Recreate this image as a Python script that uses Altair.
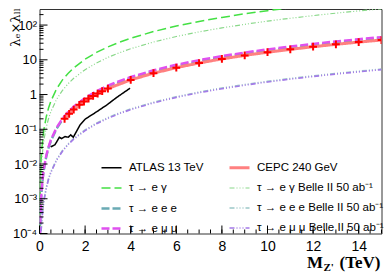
import altair as alt
import pandas as pd

# ---- data ----
M_GRID = [0.005, 0.01, 0.02, 0.03, 0.05, 0.075, 0.1, 0.15, 0.2, 0.3, 0.4, 0.5, 0.75, 1, 1.25, 1.5,
          2, 2.5, 3, 3.5, 4, 5, 6, 7, 8, 9, 10, 11, 12, 13, 14, 15]

TAU_EG = [6.5e-5, 2.6e-4, 1.04e-3, 2.34e-3, 6.5e-3, 0.0146, 0.026, 0.0585, 0.104, 0.234, 0.416, 0.65,
          1.46, 2.6, 4.06, 5.85, 10.4, 16.3, 23.4, 31.9, 41.6, 65, 94, 127, 166, 211, 260, 315, 374,
          439, 510, 585]
TAU_EG_BELLE = [3.3e-5, 1.3e-4, 5.2e-4, 1.17e-3, 3.25e-3, 7.3e-3, 0.013, 0.029, 0.052, 0.117, 0.208,
                0.325, 0.73, 1.3, 2.03, 2.93, 5.2, 8.1, 11.7, 15.9, 20.8, 32.5, 46.8, 63.7, 83.2, 105,
                130, 157, 187, 220, 255, 293]
TAU_EEE = [4.6e-6, 1.85e-5, 7.4e-5, 1.67e-4, 4.6e-4, 1.04e-3, 1.85e-3, 4.2e-3, 7.4e-3, 0.0167, 0.0296,
           0.046, 0.104, 0.185, 0.289, 0.416, 0.74, 1.16, 1.67, 2.27, 2.96, 4.63, 6.66, 9.07, 11.8,
           15.0, 18.5, 22.4, 26.6, 31.3, 36.3, 41.6]
TAU_EMM = [5e-6, 2e-5, 8e-5, 1.8e-4, 5e-4, 1.13e-3, 2e-3, 4.5e-3, 8e-3, 0.018, 0.032, 0.05, 0.1125,
           0.2, 0.3125, 0.45, 0.8, 1.25, 1.8, 2.45, 3.2, 5, 7.2, 9.8, 12.8, 16.2, 20, 24.2, 28.8,
           33.8, 39.2, 45]
TAU_EEE_BELLE = [6e-7, 2.4e-6, 9.6e-6, 2.16e-5, 6e-5, 1.35e-4, 2.4e-4, 5.4e-4, 9.6e-4, 2.16e-3,
                 3.84e-3, 6e-3, 0.0135, 0.024, 0.0375, 0.054, 0.096, 0.15, 0.216, 0.294, 0.384, 0.6,
                 0.864, 1.18, 1.54, 1.94, 2.4, 2.9, 3.46, 4.06, 4.7, 5.4]
TAU_EMM_BELLE = [5.75e-7, 2.3e-6, 9.2e-6, 2.07e-5, 5.75e-5, 1.29e-4, 2.3e-4, 5.2e-4, 9.2e-4,
                 2.07e-3, 3.68e-3, 5.75e-3, 0.0129, 0.023, 0.036, 0.0518, 0.092, 0.144, 0.207,
                 0.282, 0.368, 0.575, 0.83, 1.13, 1.47, 1.86, 2.3, 2.78, 3.31, 3.89, 4.5, 5.2]

ATLAS_M = [0.49, 0.68, 0.87, 0.97, 1.12, 1.26, 1.37, 1.48, 1.78, 2.0, 2.21, 2.51, 2.95, 3.39, 3.97]
ATLAS_V = [0.031, 0.036, 0.059, 0.054, 0.062, 0.059, 0.069, 0.059, 0.134, 0.195, 0.24, 0.32, 0.50,
           0.83, 1.52]

CEPC_M = [1.1, 1.3, 1.5, 1.75, 1.95, 2.15, 2.35, 2.55, 2.75, 3.0, 4, 5, 6, 7, 8, 9, 10, 11, 12, 13,
          14, 15]
CEPC_V = [0.20, 0.279, 0.371, 0.505, 0.627, 0.763, 0.911, 1.07, 1.25, 1.49, 2.64, 4.13, 5.94, 8.09,
          10.6, 13.4, 16.5, 20.0, 23.8, 27.9, 32.3, 37.1]

SERIES = ["ATLAS 13 TeV", "CEPC 240 GeV",
          "τ → e γ", "τ → e γ Belle II 50 ab⁻¹",
          "τ → e e e", "τ → e e e Belle II 50 ab⁻¹",
          "τ → e μ μ", "τ → e μ μ Belle II 50 ab⁻¹"]
COLORS = ["#000000", "#ff8080", "#44e044", "#8ad88a", "#6aaab4", "#9cc8c8", "#e050f0", "#a47ae8"]
DASHES = [[1, 0], [1, 0], [9, 4], [5, 2, 1, 2, 1, 2, 1, 2], [8, 3], [5, 2, 1, 2, 1, 2, 1, 2],
          [8, 3], [5, 2, 1, 2, 1, 2, 1, 2]]
WIDTHS = [1.5, 3, 1.5, 1.2, 2.4, 1.6, 2.4, 1.6]

X_MAJOR = [0, 2, 4, 6, 8, 10, 12, 14]
X_MINOR = [i * 0.5 for i in range(31)]
Y_MAJOR = [1e-4, 1e-3, 1e-2, 1e-1, 1, 10, 100]
Y_MINOR = [m * 10.0 ** k for k in range(-4, 2) for m in range(2, 10)] + [200]

W, H = 342, 224.5
XMAX = 15
YDOM = [1e-4, 290]

rows = []
for name, vals in [(SERIES[2], TAU_EG), (SERIES[3], TAU_EG_BELLE), (SERIES[4], TAU_EEE),
                   (SERIES[5], TAU_EEE_BELLE), (SERIES[6], TAU_EMM), (SERIES[7], TAU_EMM_BELLE)]:
    rows += [{"series": name, "M": m, "v": v} for m, v in zip(M_GRID, vals)]
rows += [{"series": SERIES[0], "M": m, "v": v} for m, v in zip(ATLAS_M, ATLAS_V)]
rows += [{"series": SERIES[1], "M": m, "v": v} for m, v in zip(CEPC_M, CEPC_V)]
df = pd.DataFrame(rows)
cepc = pd.DataFrame({"M": CEPC_M, "v": CEPC_V})

xs = alt.Scale(domain=[0, XMAX], nice=False)
ys = alt.Scale(type="log", domain=YDOM, nice=False)

label_expr = ("datum.value >= 100 ? '10²' : datum.value >= 10 ? '10' : datum.value >= 1 ? '1' : "
              "datum.value >= 0.1 ? '10⁻¹' : datum.value >= 0.01 ? '10⁻²' : "
              "datum.value >= 0.001 ? '10⁻³' : '10⁻⁴'")

xaxis = alt.Axis(values=X_MAJOR, ticks=False, domain=False, grid=False, title=None,
                 labelFont="Liberation Sans", labelFontSize=14, labelPadding=6, labelColor="#000",
                 labelFlush=False, labelOverlap=False)
yaxis = alt.Axis(values=Y_MAJOR, labelExpr=label_expr, ticks=False, domain=False, grid=False,
                 title=None, labelFont="Liberation Sans", labelFontSize=13, labelPadding=3,
                 labelColor="#000", labelFlush=False, labelOverlap=False)

legend = alt.Legend(orient="none", legendX=60.5, legendY=147, columns=2, direction="horizontal",
                    title=None, symbolType="stroke", symbolSize=400, labelFontSize=11.5,
                    labelFont="Liberation Sans", labelOffset=6, columnPadding=19, rowPadding=3,
                    padding=0, labelLimit=300, labelColor="#000")

X = lambda: alt.X("M:Q", scale=xs, axis=xaxis)
Y = lambda: alt.Y("v:Q", scale=ys, axis=yaxis)

lines = alt.Chart(df).mark_line(clip=True).encode(
    x=X(), y=Y(),
    color=alt.Color("series:N", scale=alt.Scale(domain=SERIES, range=COLORS), legend=legend),
    strokeDash=alt.StrokeDash("series:N", scale=alt.Scale(domain=SERIES, range=DASHES)),
    strokeWidth=alt.StrokeWidth("series:N",
                                scale=alt.Scale(type="ordinal", domain=SERIES, range=WIDTHS)),
    order="M:Q",
)

markers = alt.Chart(cepc).mark_point(shape="M-1,0L1,0M0,-1L0,1", filled=False, color="#ff0000",
                                     strokeWidth=2, size=60, opacity=1, clip=True).encode(
    x=X(), y=Y())

xt_major = alt.Chart(pd.DataFrame({"M": X_MAJOR})).mark_rule(color="#000", strokeWidth=1).encode(
    x=X(), y=alt.value(H), y2=alt.value(H - 8))
xt_minor = alt.Chart(pd.DataFrame({"M": X_MINOR})).mark_rule(color="#000", strokeWidth=1).encode(
    x=X(), y=alt.value(H), y2=alt.value(H - 4))
yt_major = alt.Chart(pd.DataFrame({"v": Y_MAJOR})).mark_rule(color="#000", strokeWidth=1).encode(
    y=Y(), x=alt.value(0), x2=alt.value(8))
yt_minor = alt.Chart(pd.DataFrame({"v": Y_MINOR})).mark_rule(color="#000", strokeWidth=1).encode(
    y=Y(), x=alt.value(0), x2=alt.value(4))

one = pd.DataFrame({"a": [0]})
t_m = alt.Chart(one).mark_text(text="M", font="Liberation Serif", fontWeight="bold", fontSize=17,
                               align="right", baseline="alphabetic", color="#000").encode(
    x=alt.value(283.5), y=alt.value(259))
t_z = alt.Chart(one).mark_text(text="Z'", font="Liberation Serif", fontWeight="bold", fontSize=11,
                               align="left", baseline="alphabetic", color="#000").encode(
    x=alt.value(284), y=alt.value(262))
t_tev = alt.Chart(one).mark_text(text="(TeV)", font="Liberation Serif", fontWeight="bold",
                                 fontSize=17, align="right", baseline="alphabetic",
                                 color="#000").encode(x=alt.value(341), y=alt.value(259))
t_y = alt.Chart(one).mark_text(text="λₑ×λₗₗ", font="DejaVu Serif", fontSize=13, angle=270,
                               align="right", baseline="middle", color="#000").encode(
    x=alt.value(-24), y=alt.value(-1))

chart = alt.layer(lines, markers, xt_minor, xt_major, yt_minor, yt_major, t_m, t_z, t_tev, t_y
                  ).properties(
    width=W, height=H, autosize=alt.AutoSizeParams(type="none"),
    padding={"left": 31.5, "top": 1, "right": 2, "bottom": 44},
    background="white",
).configure_view(stroke="#333", strokeWidth=1)

chart.save("out.html", embed_options={"renderer": "svg", "actions": False})
